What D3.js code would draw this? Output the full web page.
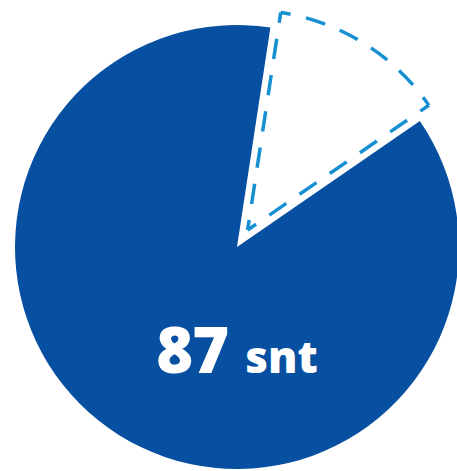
<!DOCTYPE html>
<html>
<head>
<meta charset="utf-8">
<script src="https://cdn.jsdelivr.net/npm/d3@7"></script>
<style>
  body { margin: 0; background: #fff; }
</style>
</head>
<body>
<svg id="chart" width="457" height="471"></svg>
<script>
// data
var categories = ['snt', 'other'],
    values = [87, 13],
    valueLabel = '87',
    unitLabel = 'snt';

var svg = d3.select('#chart'),
    cx = 237,
    cy = 247,
    radius = 222,
    startOffset = 0.151; // rotation of the first slice (radians)

var total = d3.sum(values),
    shift = 2 * Math.PI * values[1] / total;

var pie = d3.pie()
    .sort(null)
    .value(function(d) { return d; })
    .startAngle(startOffset + shift)
    .endAngle(startOffset + shift + 2 * Math.PI);

var arc = d3.arc()
    .innerRadius(0)
    .outerRadius(radius);

var arcs = pie(values);

var g = svg.append('g')
    .attr('transform', 'translate(' + cx + ',' + cy + ')');

// main slice
g.append('path')
    .datum(arcs[0])
    .attr('d', arc)
    .attr('fill', '#0750a1');

// exploded slice, dashed outline drawn edge by edge so dashes sit on corners
var explode = 20,
    a0 = arcs[1].startAngle - 2 * Math.PI,
    a1 = arcs[1].endAngle - 2 * Math.PI,
    mid = (a0 + a1) / 2,
    dx = Math.sin(mid) * explode,
    dy = -Math.cos(mid) * explode,
    r2 = radius - 2;

var sg = g.append('g')
    .attr('transform', 'translate(' + dx + ',' + dy + ')');

var pt = function(a, r) { return [Math.sin(a) * r, -Math.cos(a) * r]; };

var edges = [];
var p1 = d3.path(); p1.moveTo(0, 0); p1.lineTo(pt(a0, r2)[0], pt(a0, r2)[1]);
edges.push({ d: p1.toString(), len: r2 });
var p2 = d3.path(); p2.moveTo(pt(a0, r2)[0], pt(a0, r2)[1]);
p2.arc(0, 0, r2, a0 - Math.PI / 2, a1 - Math.PI / 2, false);
edges.push({ d: p2.toString(), len: r2 * (a1 - a0) });
var p3 = d3.path(); p3.moveTo(pt(a1, r2)[0], pt(a1, r2)[1]); p3.lineTo(0, 0);
edges.push({ d: p3.toString(), len: r2 });

sg.append('path')
    .datum(arcs[1])
    .attr('d', d3.arc().innerRadius(0).outerRadius(r2))
    .attr('fill', '#fff');

sg.selectAll('.edge').data(edges).enter()
  .append('path')
    .classed('edge', true)
    .attr('d', function(d) { return d.d; })
    .attr('fill', 'none')
    .attr('stroke', '#1790d2')
    .attr('stroke-width', 3.5)
    .attr('stroke-dasharray', function(d) {
        var n = Math.max(1, Math.round(d.len / 38)),
            p = d.len / n;
        return (p * 0.56) + ',' + (p * 0.44);
    })
    .attr('stroke-dashoffset', function(d) {
        var n = Math.max(1, Math.round(d.len / 38)),
            p = d.len / n;
        return p * 0.56 / 2;
    });

// label
var label = g.append('text')
    .attr('x', 0)
    .attr('y', 126)
    .attr('text-anchor', 'middle')
    .attr('fill', '#fff')
    .style('font-family', '"Open Sans", sans-serif')
    .style('font-weight', 800);

label.append('tspan')
    .style('font-size', '63px')
    .attr('letter-spacing', '-1')
    .text(valueLabel);
label.append('tspan')
    .style('font-size', '44px')
    .attr('dx', 17)
    .text(unitLabel);
</script>
</body>
</html>
